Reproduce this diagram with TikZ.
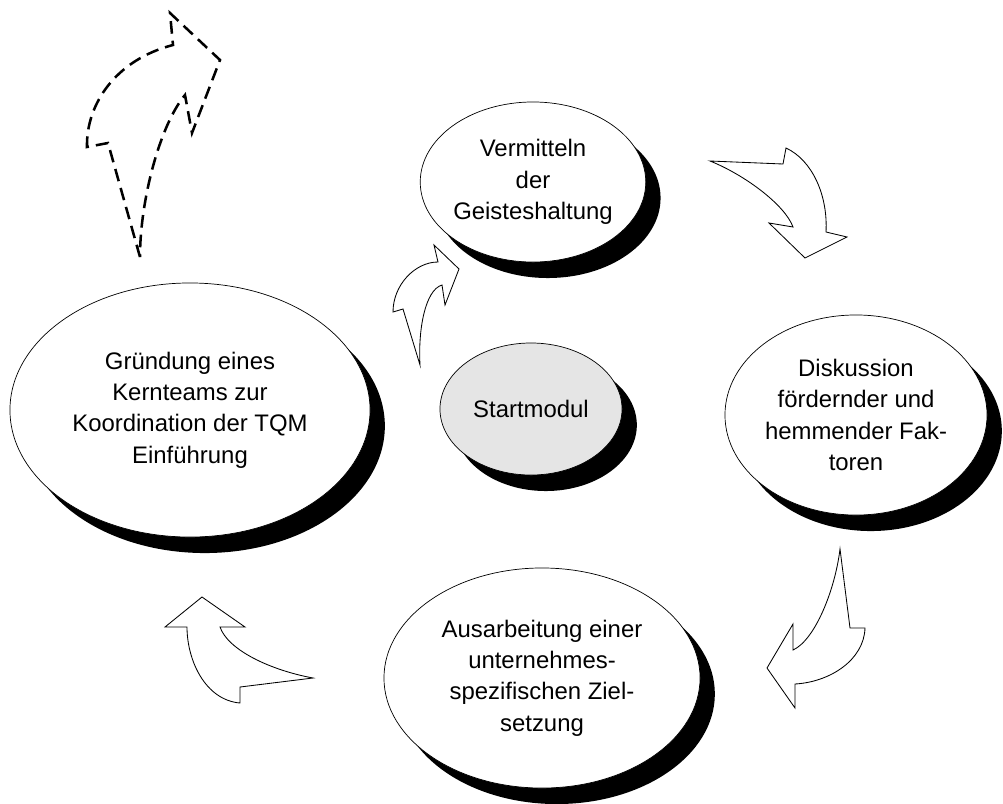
\documentclass[tikz,border=0pt]{standalone}
\usepackage{fontspec}
\setmainfont{Liberation Sans}
\usetikzlibrary{shapes.geometric,shadows}

\begin{document}
\begin{tikzpicture}[x=0.025cm,y=-0.025cm,
  stage/.style={draw,ellipse,fill=white,align=center,inner sep=0pt,
    font=\fontsize{17}{22.3}\selectfont,line width=.5pt,
    drop shadow={shadow xshift=.37cm,shadow yshift=-.4cm,opacity=1,fill=black}},
  turn/.style={draw,fill=white,line width=.6pt,line join=miter},
  exit/.style={draw,line width=1.8pt,dash pattern=on 9pt off 5pt,line join=miter}]
\useasboundingbox (0,0) rectangle (1003,803);
% phases of the cycle
\node[stage,minimum width=9cm,minimum height=6.35cm] (kern) at (190,410)
  {Gründung eines\\Kernteams zur\\Koordination der TQM\\Einführung};
\node[stage,minimum width=5.5cm,minimum height=4cm] (geist) at (533,182)
  {Vermitteln\\der\\Geisteshaltung};
\node[stage,minimum width=6.55cm,minimum height=5cm] (faktor) at (856,415)
  {Diskussion\\fördernder und\\hemmender Fak-\\toren};
\node[stage,minimum width=7.9cm,minimum height=5.5cm] (ziel) at (542,678)
  {Ausarbeitung einer\\unternehmes-\\spezifischen Ziel-\\setzung};
\node[stage,fill=black!10,minimum width=4.55cm,minimum height=3.3cm] (start) at (531,409)
  {Startmodul};
% curved block arrows between the phases
\draw[turn] (420,365) -- (403,309) -- (393,312)
  .. controls (393,285) and (415,262) .. (438,262) -- (434,245) -- (459,269)
  -- (445,305) -- (442,285) .. controls (425,290) and (418,330) .. (420,365) -- cycle;
\draw[turn] (710,161) -- (783,164) -- (786,148)
  .. controls (812,160) and (828,195) .. (826,232) -- (847,237) -- (805,258)
  -- (769,223) -- (793,227) .. controls (785,205) and (745,175) .. (710,161) -- cycle;
\draw[turn] (840,549) -- (850,628) -- (865,628)
  .. controls (864,660) and (830,682) .. (795,684) -- (795,708) -- (767,668)
  -- (793,624) -- (793,650) .. controls (815,640) and (835,590) .. (840,549) -- cycle;
\draw[turn] (313,678) -- (240,687) -- (240,703)
  .. controls (205,700) and (187,660) .. (187,627) -- (165,627) -- (202,597)
  -- (245,627) -- (220,627) .. controls (228,650) and (270,670) .. (313,678) -- cycle;
% way out of the cycle
\draw[exit] (140,257) -- (108,143) -- (87,147)
  .. controls (86,105) and (115,60) .. (173,45) -- (170,13) -- (220,60)
  -- (192,133) -- (185,95) .. controls (160,125) and (140,200) .. (140,257) -- cycle;
\end{tikzpicture}
\end{document}
